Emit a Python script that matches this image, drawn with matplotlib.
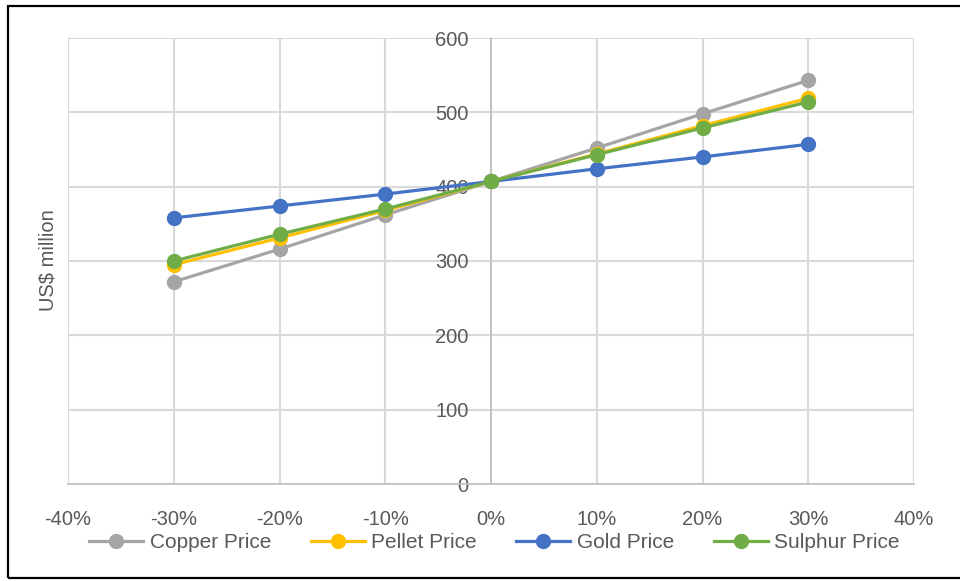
import numpy as np
import matplotlib.pyplot as plt
from matplotlib.patches import Rectangle

plt.rcParams['font.family'] = ['Liberation Sans', 'DejaVu Sans']

# sensitivity, change in price (%)
changes = [-30, -20, -10, 0, 10, 20, 30]
copper = [272, 316, 362, 407, 452, 498, 543]
pellet = [295, 331, 368, 407, 444, 482, 519]
gold = [358, 374, 390, 407, 424, 440, 457]
sulphur = [300, 336, 370, 407, 443, 479, 514]

x_ticks = [-40, -30, -20, -10, 0, 10, 20, 30, 40]
y_ticks = [0, 100, 200, 300, 400, 500, 600]

series = [
    ('Copper Price', copper, '#A5A5A5'),
    ('Pellet Price', pellet, '#FFC000'),
    ('Gold Price', gold, '#4472C4'),
    ('Sulphur Price', sulphur, '#70AD47'),
]

text_col = '#595959'
grid_col = '#D9D9D9'

fig = plt.figure(figsize=(9.6, 5.81), dpi=100)
ax = fig.add_axes([68 / 960, 97 / 581, 846 / 960, 446 / 581])

for name, vals, col in series:
    ax.plot(changes, vals, color=col, lw=2.3, marker='o', markersize=10,
            label=name, zorder=3)

ax.set_xlim(-40, 40)
ax.set_ylim(0, 600)
ax.set_xticks(x_ticks)
ax.set_xticklabels([f'{t}%' for t in x_ticks])
ax.set_yticks(y_ticks)
ax.grid(True, color=grid_col, lw=1.5, zorder=0)

for s in ['top', 'right']:
    ax.spines[s].set_visible(False)
ax.spines['left'].set_position(('data', 0))
ax.spines['left'].set_color('#BFBFBF')
ax.spines['left'].set_linewidth(1.2)
ax.spines['bottom'].set_color('#BFBFBF')
ax.spines['bottom'].set_linewidth(1.2)

ax.tick_params(axis='both', length=0, labelsize=14.5, labelcolor=text_col)
ax.tick_params(axis='y', pad=16)
ax.tick_params(axis='x', pad=19)

fig.text(48 / 960, 1 - 260 / 581, 'US$ million', rotation=90, fontsize=14.5,
         color=text_col, ha='center', va='center')

fig.legend(loc='center', bbox_to_anchor=(0.515, 1 - 543 / 581), ncol=4,
           frameon=False, fontsize=15, handlelength=2.6, handletextpad=0.3,
           columnspacing=1.9, labelcolor=text_col)

# black border round the chart
fig.patches.append(Rectangle((8 / 960, 3 / 581), 1.0, 572 / 581,
                             transform=fig.transFigure, fill=False,
                             edgecolor='black', lw=1.6))

fig.savefig('out.png', dpi=100)
